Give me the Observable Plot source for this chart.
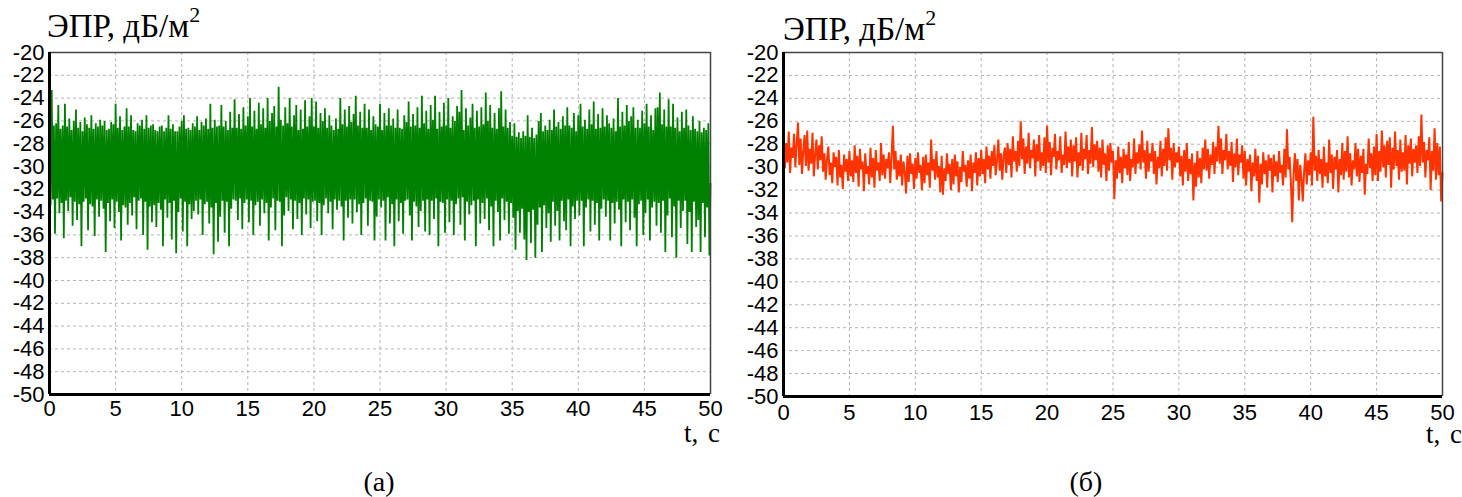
<!DOCTYPE html>
<html>
<head>
<meta charset="utf-8">
<script src="https://cdn.jsdelivr.net/npm/d3@7"></script>
<script src="https://cdn.jsdelivr.net/npm/@observablehq/plot@0.6"></script>
<style>
  html, body { margin: 0; padding: 0; background: #fff; }
  #page { position: relative; width: 1462px; height: 497px; overflow: hidden; background: #fff; }
  .panel { position: absolute; top: 0; }
  .ttl { position: absolute; font-family: "Liberation Serif", "DejaVu Serif", serif; font-size: 33px; color: #000; white-space: nowrap; line-height: 1; }
  .ttl sup { font-size: 22px; position: relative; top: -3px; line-height: 0; vertical-align: super; }
  .tlab { position: absolute; font-family: "Liberation Serif", "DejaVu Serif", serif; font-size: 27px; color: #000; white-space: nowrap; line-height: 0.8; word-spacing: 3px; }
  .cap { position: absolute; font-family: "Liberation Serif", "DejaVu Serif", serif; font-size: 28px; color: #000; white-space: nowrap; line-height: 1; transform: translateX(-50%); }
</style>
</head>
<body>
<div id="page">
  <div class="panel" id="pa" style="left:0px"></div>
  <div class="panel" id="pb" style="left:731px"></div>
  <div class="ttl" style="left:47px; top:10px">ЭПР, дБ/м<sup>2</sup></div>
  <div class="ttl" style="left:783px; top:13px">ЭПР, дБ/м<sup>2</sup></div>
  <div class="tlab" style="left:684px; top:423px">t, с</div>
  <div class="tlab" style="left:1426px; top:424px">t, с</div>
  <div class="cap" style="left:379px; top:468px">(а)</div>
  <div class="cap" style="left:1086px; top:468px">(б)</div>
</div>
<script>
// ---- data ----
const xTicks = [0, 5, 10, 15, 20, 25, 30, 35, 40, 45, 50];
const yTicks = [-20, -22, -24, -26, -28, -30, -32, -34, -36, -38, -40, -42, -44, -46, -48, -50];
const tStart = 0;
const tEnd = 50;

// (а) ЭПР, дБ/м², uniformly sampled over 0..50 s (12 samples per second)
const seriesA = [
-25.1,-33.4,-23.3,-32.9,-26.4,-35.9,-26.2,-32.8,-24.6,-34.1,-26.7,-33.2,
-26.4,-36.3,-24.5,-33.0,-26.5,-33.9,-25.8,-32.7,-26.8,-35.2,-26.0,-33.1,
-25.0,-34.7,-26.6,-33.3,-26.1,-37.0,-26.9,-33.1,-25.7,-32.8,-26.3,-35.6,
-26.6,-33.3,-25.5,-33.5,-26.7,-36.1,-26.2,-32.9,-26.5,-34.4,-25.9,-33.0,
-26.4,-33.7,-26.0,-37.5,-26.8,-33.2,-26.7,-34.8,-26.1,-32.9,-26.3,-35.4,
-24.5,-33.1,-26.6,-34.0,-25.6,-36.5,-26.8,-33.4,-26.5,-33.6,-24.9,-35.1,
-26.5,-33.2,-25.5,-34.3,-26.8,-32.7,-26.9,-35.5,-26.2,-33.0,-26.4,-32.8,
-25.9,-36.0,-26.7,-33.1,-25.5,-37.3,-26.6,-33.5,-26.4,-34.9,-26.3,-33.4,
-26.8,-35.3,-26.9,-33.2,-26.5,-33.8,-26.4,-37.0,-26.9,-32.9,-26.6,-34.5,
-25.5,-33.2,-26.7,-36.4,-26.3,-33.0,-26.9,-37.6,-26.9,-34.0,-26.5,-32.8,
-26.0,-35.7,-25.5,-33.1,-26.7,-37.0,-26.6,-33.3,-26.8,-34.6,-26.2,-33.9,
-26.5,-33.0,-25.6,-34.2,-26.8,-32.9,-26.1,-36.0,-26.4,-33.3,-25.8,-33.1,
-26.7,-35.0,-24.5,-33.6,-26.6,-37.7,-25.9,-33.2,-26.5,-36.6,-26.4,-34.4,
-24.6,-33.0,-26.5,-35.8,-26.0,-33.1,-26.8,-37.0,-25.2,-33.7,-26.6,-32.9,
-24.1,-33.0,-26.6,-34.7,-25.4,-32.8,-26.7,-35.5,-24.8,-33.2,-26.4,-32.9,
-25.6,-34.9,-24.0,-33.0,-26.5,-36.0,-25.1,-33.4,-26.7,-33.1,-24.4,-35.2,
-26.3,-32.9,-24.9,-34.1,-26.6,-33.2,-24.0,-36.5,-26.0,-33.6,-25.3,-32.8,
-24.7,-35.6,-26.5,-33.0,-23.0,-33.1,-25.9,-37.0,-26.4,-34.3,-24.8,-32.7,
-26.2,-33.9,-24.0,-32.9,-26.5,-35.5,-25.5,-33.0,-24.6,-34.6,-26.8,-33.2,
-25.0,-36.0,-26.7,-32.8,-24.2,-34.2,-26.5,-32.9,-25.6,-35.4,-24.0,-33.1,
-26.5,-33.0,-24.3,-34.8,-26.6,-33.2,-25.3,-36.0,-26.0,-33.4,-24.9,-32.8,
-26.6,-34.1,-25.5,-33.1,-26.4,-35.5,-26.8,-32.9,-25.8,-33.8,-26.7,-33.0,
-24.0,-33.5,-26.3,-36.5,-25.0,-33.0,-26.5,-34.5,-24.7,-32.9,-26.1,-35.0,
-25.4,-32.9,-23.8,-34.0,-26.4,-33.3,-25.2,-36.0,-26.6,-33.2,-24.5,-32.8,
-26.6,-35.2,-25.0,-33.0,-26.8,-33.1,-25.6,-36.5,-26.3,-34.4,-26.5,-32.9,
-24.5,-33.6,-26.8,-33.0,-25.3,-36.5,-26.4,-32.7,-24.9,-35.0,-26.4,-33.3,
-25.8,-37.0,-26.6,-32.9,-25.0,-34.8,-26.6,-33.2,-26.7,-35.9,-25.5,-33.0,
-26.1,-32.9,-24.3,-34.3,-26.5,-36.5,-25.4,-33.1,-26.4,-33.5,-24.8,-35.3,
-26.6,-33.9,-23.8,-33.0,-26.2,-35.7,-25.1,-32.9,-26.7,-36.0,-24.6,-33.0,
-25.9,-34.6,-23.8,-32.8,-26.7,-37.0,-25.2,-33.1,-26.5,-33.2,-24.4,-35.8,
-26.4,-32.9,-24.0,-34.9,-26.6,-33.0,-25.6,-36.0,-26.0,-33.3,-24.7,-32.8,
-25.2,-35.1,-23.3,-32.7,-26.8,-36.5,-24.9,-33.1,-26.4,-34.2,-25.7,-33.4,
-24.5,-33.0,-26.6,-37.0,-25.1,-32.9,-26.5,-35.0,-24.8,-33.2,-26.3,-34.6,
-23.5,-32.8,-26.0,-35.6,-24.6,-33.5,-26.6,-37.0,-25.3,-33.0,-26.7,-34.0,
-24.9,-36.5,-23.4,-32.8,-26.5,-34.7,-25.0,-33.1,-26.6,-35.9,-26.1,-33.2,
-27.3,-34.5,-26.2,-37.3,-27.4,-33.9,-27.0,-35.8,-27.5,-33.7,-26.9,-36.4,
-27.3,-38.2,-25.5,-34.0,-27.4,-36.7,-26.6,-33.8,-27.5,-38.0,-27.2,-35.1,
-26.0,-33.6,-25.3,-37.5,-26.9,-33.4,-26.4,-35.4,-26.8,-34.1,-25.9,-36.6,
-26.8,-33.1,-25.0,-35.2,-26.5,-33.9,-26.1,-36.5,-26.7,-33.0,-25.6,-34.8,
-26.4,-35.6,-24.8,-32.9,-26.4,-37.0,-26.6,-33.5,-25.3,-34.6,-26.9,-33.0,
-25.5,-34.3,-24.5,-33.0,-26.5,-37.0,-25.9,-33.6,-26.7,-32.9,-25.0,-35.7,
-26.3,-33.0,-24.3,-35.1,-26.7,-33.2,-25.4,-36.5,-26.6,-33.7,-24.9,-32.9,
-26.5,-34.4,-25.5,-33.0,-26.2,-36.5,-26.6,-33.2,-25.8,-35.0,-26.9,-33.1,
-24.0,-33.8,-26.5,-37.0,-25.2,-32.9,-26.4,-34.9,-24.6,-33.1,-26.0,-35.6,
-25.6,-32.9,-24.8,-34.5,-26.6,-37.0,-25.9,-33.3,-26.6,-33.0,-25.1,-36.0,
-26.2,-34.1,-24.5,-32.9,-26.5,-36.5,-25.5,-33.6,-26.8,-33.1,-24.9,-35.2,
-24.8,-33.2,-23.5,-35.8,-26.3,-33.0,-25.0,-37.5,-26.5,-34.3,-24.1,-32.8,
-26.5,-36.2,-24.5,-33.5,-26.6,-38.0,-25.7,-33.0,-26.9,-35.4,-25.2,-33.9,
-26.6,-33.0,-25.0,-36.8,-26.4,-34.0,-26.8,-37.5,-25.6,-33.1,-26.7,-35.3,
-26.9,-34.7,-26.0,-37.5,-27.0,-33.2,-26.6,-36.2,-26.8,-33.6,-26.2,-37.8,
-31.5
];

// (б) ЭПР, дБ/м², uniformly sampled over 0..50 s (10 samples per second)
const seriesB = [
-27.4,-30.1,-27.9,-29.6,-26.9,-30.5,-28.3,-29.2,-27.1,-30.0,
-28.0,-26.1,-29.8,-27.5,-30.6,-28.6,-27.2,-29.9,-26.8,-30.3,
-28.4,-29.7,-27.0,-30.8,-28.9,-27.6,-30.2,-28.1,-29.4,-27.3,
-30.4,-28.8,-31.1,-29.3,-28.2,-30.7,-29.6,-31.4,-28.7,-30.0,
-29.1,-31.6,-28.5,-30.9,-29.8,-31.9,-28.9,-30.4,-29.3,-31.2,
-28.6,-30.8,-29.4,-31.3,-28.1,-30.5,-29.0,-31.7,-28.4,-30.2,
-29.5,-32.1,-28.8,-30.6,-29.9,-31.5,-28.3,-30.9,-29.2,-31.8,
-28.5,-30.3,-29.6,-31.2,-27.9,-30.7,-28.9,-31.0,-29.3,-30.1,
-28.7,-31.4,-29.1,-26.4,-30.2,-28.6,-31.1,-29.4,-30.8,-28.9,
-31.6,-29.5,-30.4,-32.3,-29.0,-31.3,-28.8,-30.6,-29.7,-31.9,
-29.2,-31.0,-28.7,-30.5,-29.8,-32.0,-29.1,-31.4,-28.9,-30.7,
-29.6,-31.8,-27.6,-30.3,-29.3,-31.1,-28.6,-30.9,-29.9,-32.2,
-29.0,-32.4,-30.1,-31.2,-28.8,-30.6,-29.7,-32.0,-29.3,-31.5,
-28.9,-30.8,-29.5,-32.2,-30.0,-31.3,-28.6,-30.4,-29.8,-31.7,
-29.4,-31.0,-28.9,-32.1,-29.6,-30.5,-28.7,-31.6,-29.2,-30.8,
-28.5,-30.6,-29.3,-31.4,-28.2,-30.2,-29.0,-31.0,-28.6,-29.9,
-28.1,-30.7,-29.4,-27.6,-30.3,-28.8,-31.1,-29.0,-28.3,-30.5,
-27.9,-29.8,-28.4,-30.9,-27.3,-29.5,-28.6,-30.4,-27.7,-29.9,
-26.0,-29.3,-27.5,-30.6,-28.2,-29.7,-27.0,-30.1,-28.5,-29.2,
-27.6,-30.8,-28.0,-29.5,-27.2,-30.3,-28.7,-29.9,-27.4,-30.5,
-26.4,-29.6,-27.8,-30.7,-28.3,-29.1,-27.1,-30.2,-28.6,-29.4,
-27.3,-30.5,-28.9,-29.8,-26.9,-30.1,-28.2,-29.6,-27.6,-30.8,
-28.1,-29.5,-27.4,-30.9,-28.7,-29.9,-27.0,-30.3,-28.4,-29.3,
-27.2,-30.6,-28.5,-29.7,-26.5,-30.0,-28.0,-29.4,-27.7,-30.4,
-28.3,-30.9,-27.6,-29.8,-28.8,-31.2,-28.1,-30.3,-27.9,-29.6,
-28.6,-32.8,-29.4,-31.0,-28.2,-30.5,-29.1,-31.4,-28.4,-30.1,
-28.9,-30.7,-27.8,-31.2,-29.3,-30.0,-27.5,-30.6,-28.7,-29.7,
-28.0,-30.2,-26.8,-29.6,-28.5,-31.0,-27.7,-30.4,-28.8,-29.5,
-27.9,-30.6,-28.6,-31.5,-29.1,-30.1,-27.7,-30.8,-28.4,-29.9,
-27.4,-30.3,-26.6,-29.4,-28.3,-31.1,-27.9,-30.0,-28.7,-29.6,
-28.2,-30.8,-29.0,-31.6,-28.5,-30.4,-27.9,-31.2,-29.3,-30.6,
-28.8,-32.9,-29.6,-31.7,-28.6,-30.9,-29.2,-31.4,-28.3,-30.2,
-27.6,-30.3,-28.4,-31.0,-28.9,-29.8,-27.8,-30.6,-28.2,-29.5,
-26.4,-29.7,-27.5,-30.6,-28.5,-29.4,-27.1,-30.2,-28.6,-29.9,
-27.8,-31.3,-28.8,-30.0,-27.5,-30.7,-28.9,-29.6,-28.1,-31.0,
-28.6,-31.6,-29.3,-30.4,-28.9,-32.1,-29.6,-30.8,-28.4,-31.2,
-29.0,-33.1,-29.7,-31.5,-28.7,-30.6,-29.4,-31.8,-28.9,-30.3,
-29.2,-32.2,-28.9,-30.8,-29.5,-31.3,-28.6,-30.5,-29.8,-31.6,
-28.4,-30.9,-26.7,-30.2,-29.1,-31.4,-34.8,-30.6,-28.8,-31.2,
-29.3,-32.9,-29.8,-31.0,-33.0,-30.4,-28.8,-31.5,-29.4,-30.7,
-28.7,-31.6,-25.6,-30.3,-29.0,-31.2,-28.5,-30.6,-29.3,-31.8,
-28.2,-30.8,-29.6,-31.4,-27.6,-30.5,-28.9,-31.9,-29.1,-30.2,
-28.5,-32.2,-29.3,-30.7,-27.9,-31.1,-28.6,-30.4,-27.3,-30.9,
-28.8,-31.6,-29.4,-30.2,-27.9,-30.8,-28.4,-31.3,-29.0,-30.5,
-28.4,-32.4,-29.7,-30.6,-27.5,-30.1,-28.8,-31.2,-28.2,-30.7,
-27.1,-31.2,-28.6,-30.4,-26.8,-30.0,-28.1,-30.9,-27.7,-29.8,
-27.4,-31.8,-28.3,-30.2,-26.9,-29.9,-28.5,-31.1,-27.6,-30.4,
-28.7,-30.3,-27.2,-31.5,-28.1,-29.7,-27.5,-30.8,-28.4,-29.6,
-28.1,-30.5,-27.3,-29.9,-25.4,-29.6,-27.8,-30.9,-28.5,-29.4,
-27.4,-32.0,-28.6,-30.3,-26.6,-31.1,-27.9,-30.7,-28.2,-33.0,
-30.5
];

function toRows(vals) {
  const dt = (tEnd - tStart) / (vals.length - 1);
  return vals.map((v, i) => ({t: tStart + i * dt, v}));
}

const xGrid = xTicks.filter(d => d > tStart && d < tEnd);
const yGrid = yTicks.filter(d => d > -50 && d < -20);

function panel(vals, color, opts) {
  return Plot.plot({
    width: 731,
    height: opts.height,
    marginLeft: opts.ml,
    marginRight: opts.mr,
    marginTop: 52,
    marginBottom: opts.height - opts.bottom,
    style: {fontFamily: "'Liberation Sans', Arial, sans-serif", fontSize: "22px", color: "#000", background: "transparent", overflow: "visible"},
    x: {domain: [0, 50], ticks: xTicks, tickFormat: d => String(d), tickSize: 0, tickPadding: opts.xpad, label: null},
    y: {domain: [-50, -20], ticks: yTicks, tickFormat: d => String(d), tickSize: 0, tickPadding: 5, label: null},
    marks: [
      Plot.ruleX(xGrid, {stroke: "#b4b4b4", strokeWidth: 1, strokeDasharray: "3,3"}),
      Plot.ruleY(yGrid, {stroke: "#b4b4b4", strokeWidth: 1, strokeDasharray: "3,3"}),
      Plot.line(toRows(vals), {x: "t", y: "v", stroke: color, strokeWidth: opts.sw, strokeLinejoin: "miter"}),
      Plot.ruleX([50], {stroke: "#444", strokeWidth: 1.5}),
      Plot.ruleY([-20], {stroke: "#444", strokeWidth: 1.5}),
      Plot.ruleX([0], {stroke: "#000", strokeWidth: 3}),
      Plot.ruleY([-50], {stroke: "#000", strokeWidth: 3})
    ]
  });
}

document.getElementById("pa").appendChild(panel(seriesA, "#008000", {height: 430, bottom: 394, ml: 49, mr: 21, xpad: 6, sw: 1.8}));
document.getElementById("pb").appendChild(panel(seriesB, "#ff3300", {height: 430, bottom: 396, ml: 52, mr: 20, xpad: 8, sw: 2}));
</script>
</body>
</html>
